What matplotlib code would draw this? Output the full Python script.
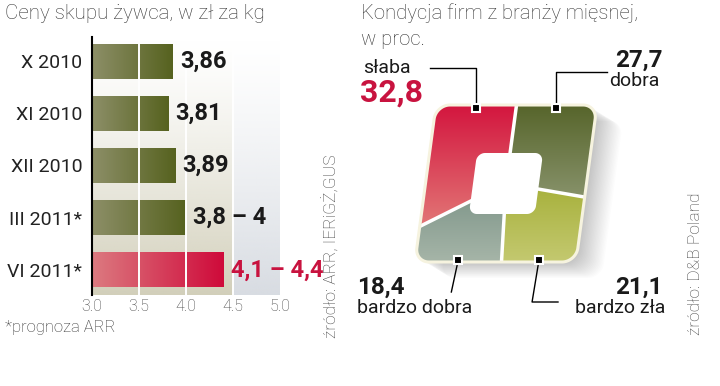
import numpy as np
import matplotlib
matplotlib.use('Agg')
import matplotlib.pyplot as plt
from matplotlib.patches import Polygon
from matplotlib.colors import to_rgb

# left chart: live pig purchase prices, zl/kg
periods = ['X 2010', 'XI 2010', 'XII 2010', 'III 2011*', 'VI 2011*']
price_low = [3.86, 3.81, 3.89, 3.8, 4.1]
price_high = [3.86, 3.81, 3.89, 4.0, 4.4]
price_ticks = [3.0, 3.5, 4.0, 4.5, 5.0]
highlight = 4

# right chart: condition of meat companies, %, clockwise from top
condition_labels = ['dobra', 'bardzo zła', 'bardzo dobra', 'słaba']
condition_values = [27.7, 21.1, 18.4, 32.8]

plt.rcParams['font.family'] = ['Roboto', 'DejaVu Sans']

OLIVE = ('#8d8f68', '#56621f')
RED = ('#dc7a80', '#cf0a3a')
RED_TXT = '#c8133f'
INK = '#1a1a1a'
piece_colors = [('#56642a', '#87926a'), ('#a6b03a', '#c4c970'),
                ('#7a9286', '#a6b5a8'), ('#d3153e', '#e27676')]


def fmt(v):
    s = f'{v:.2f}'.rstrip('0').rstrip('.')
    return s.replace('.', ',')


fig = plt.figure(figsize=(7.2, 3.86), dpi=100)
canvas = fig.add_axes([0, 0, 1, 1])
canvas.set_xlim(0, 720)
canvas.set_ylim(386, 0)
canvas.axis('off')

# ---------------- left: bar chart ----------------
ax = fig.add_axes([92 / 720, 1 - 295 / 386, 188 / 720, 258 / 386])
y = np.arange(len(periods))
ylo, yhi = len(periods) - 1 + 0.48, -0.46


def vgrad(color, n=256, gamma=1.3):
    arr = np.zeros((n, 1, 4))
    arr[..., :3] = to_rgb(color)
    arr[:, 0, 3] = np.linspace(0, 1, n) ** gamma
    return arr


ax.imshow(vgrad('#d2cfba'), extent=(3.0, 4.5, ylo, yhi), origin='upper',
          aspect='auto', zorder=0)
ax.imshow(vgrad('#d8dce2'), extent=(4.5, 5.0, ylo, yhi), origin='upper',
          aspect='auto', zorder=0)

bars = ax.barh(y, price_high, height=0.67, color='none', zorder=2)
for i, b in enumerate(bars):
    c0, c1 = RED if i == highlight else OLIVE
    t = np.linspace(0, 1, 256)[:, None]
    arr = (1 - t) * np.array(to_rgb(c0)) + t * np.array(to_rgb(c1))
    im = ax.imshow(arr[None, :, :], extent=(3.0, price_high[i], y[i] + 0.335, y[i] - 0.335),
                   aspect='auto', zorder=2, interpolation='bilinear')
    im.set_clip_path(b)
    label = fmt(price_low[i]) if price_low[i] == price_high[i] else \
        f'{fmt(price_low[i])} – {fmt(price_high[i])}'
    ax.annotate(label, xy=(price_high[i], y[i]), xytext=(5, 0), textcoords='offset points',
                va='center', ha='left', fontsize=17, fontweight='bold', zorder=6,
                color=RED_TXT if i == highlight else INK, annotation_clip=False)

for v in price_ticks[1:-1]:
    ax.axvline(v, color='white', lw=1.4, zorder=3)

ax.set_xlim(3.0, 5.0)
ax.set_ylim(ylo, yhi)
for s in ['top', 'right', 'bottom']:
    ax.spines[s].set_visible(False)
ax.spines['left'].set_linewidth(1.5)
ax.spines['left'].set_color('black')
ax.spines['left'].set_zorder(4)
ax.set_xticks(price_ticks, labels=[f'{t:.1f}' for t in price_ticks])
ax.set_yticks(y, labels=periods)
ax.tick_params(axis='x', length=0, pad=3, labelsize=11.5, labelcolor='#444')
ax.tick_params(axis='y', length=0, pad=7, labelsize=14, labelcolor='#222')
for lbl in ax.get_xticklabels():
    lbl.set_fontweight('light')

canvas.text(5, 19, 'Ceny skupu żywca, w zł za kg', fontsize=14.8, fontweight='light',
            color='#333', va='baseline')
canvas.text(5, 332, '*prognoza ARR', fontsize=12, fontweight='light', color='#333',
            va='baseline')
canvas.text(331, 338, 'źródło: ARR, IERiGŻ,GUS', rotation=90, ha='center', va='bottom',
            fontsize=12.5, fontweight='light', color='#444')

# ---------------- right: square "pie" ----------------
cx, cy = 506.0, 183.5
half_w, half_h, corner_r, skew = 80.5, 78.5, 14.0, 0.134
hole_w, hole_h, hole_r = 33.0, 30.5, 8.0


def rounded_outline(a, b, r, n=300):
    rad = np.radians
    parts = [np.column_stack([np.linspace(0, a - r, n), np.full(n, b)])]
    t = rad(np.linspace(90, 0, n))
    parts.append(np.column_stack([a - r + r * np.cos(t), b - r + r * np.sin(t)]))
    parts.append(np.column_stack([np.full(n, a), np.linspace(b - r, -b + r, n)]))
    t = rad(np.linspace(0, -90, n))
    parts.append(np.column_stack([a - r + r * np.cos(t), -b + r + r * np.sin(t)]))
    parts.append(np.column_stack([np.linspace(a - r, -a + r, n), np.full(n, -b)]))
    t = rad(np.linspace(-90, -180, n))
    parts.append(np.column_stack([-a + r + r * np.cos(t), -b + r + r * np.sin(t)]))
    parts.append(np.column_stack([np.full(n, -a), np.linspace(-b + r, b - r, n)]))
    t = rad(np.linspace(180, 90, n))
    parts.append(np.column_stack([-a + r + r * np.cos(t), b - r + r * np.sin(t)]))
    parts.append(np.column_stack([np.linspace(-a + r, 0, n), np.full(n, b)]))
    return np.vstack(parts)


def to_canvas(p):
    p = np.atleast_2d(p)
    return np.column_stack([cx + p[:, 0] + skew * p[:, 1], cy - p[:, 1]])


outline = rounded_outline(half_w, half_h, corner_r)
ang = (90 - np.degrees(np.arctan2(outline[:, 1], outline[:, 0]))) % 360
ang[-1] = 360.0
cum = np.concatenate([[0], np.cumsum(condition_values)]) / sum(condition_values) * 360

# soft drop shadow
outline_c = to_canvas(outline)
for k in range(1, 21):
    canvas.add_patch(Polygon(outline_c + [k * 1.3, k * 0.8], closed=True, facecolor='black',
                             edgecolor='none', alpha=0.011, zorder=1))

markers = []
for i in range(len(condition_values)):
    mask = (ang >= cum[i]) & (ang <= cum[i + 1])
    pts = np.vstack([[0, 0], outline[mask]])
    poly_c = to_canvas(pts)
    poly = Polygon(poly_c, closed=True, facecolor='none', edgecolor='none', zorder=2)
    canvas.add_patch(poly)
    c_top, c_bot = piece_colors[i]
    t = np.linspace(0, 1, 256)[:, None]
    arr = (1 - t) * np.array(to_rgb(c_top)) + t * np.array(to_rgb(c_bot))
    x0, x1 = poly_c[:, 0].min(), poly_c[:, 0].max()
    y0, y1 = poly_c[:, 1].min(), poly_c[:, 1].max()
    im = canvas.imshow(arr[:, None, :], extent=(x0, x1, y1, y0), origin='upper',
                       aspect='auto', zorder=2, interpolation='bilinear')
    im.set_clip_path(poly)
    edge = outline[mask]
    top = edge[:, 1].mean() > 0
    near = edge[np.abs(edge[:, 1]) >= half_h - corner_r]
    near = near[near[:, 1] > 0] if top else near[near[:, 1] < 0]
    mx = (near[:, 0].min() + near[:, 0].max()) / 2
    my = (half_h - 2.5) if top else -(half_h - 2.5)
    markers.append(to_canvas([mx, my])[0])

for c in cum[:-1]:
    j = np.argmin(np.abs(ang - c))
    seg = to_canvas(np.array([[0, 0], outline[j]]))
    canvas.plot(seg[:, 0], seg[:, 1], color='white', lw=2.5, zorder=3,
                solid_capstyle='butt')

canvas.add_patch(Polygon(to_canvas(rounded_outline(hole_w, hole_h, hole_r, 60)), closed=True,
                         facecolor='white', edgecolor='none', zorder=4))
canvas.add_patch(Polygon(outline_c, closed=True, facecolor='none', edgecolor='#f6f3df',
                         lw=2.2, zorder=4))

for mx, my in markers:
    canvas.plot([mx], [my], marker='s', ms=6, mfc='black', mec='white', mew=1.5, zorder=6)

val = [f'{v:.1f}'.replace('.', ',') for v in condition_values]

# dobra
mx, my = markers[0]
canvas.plot([mx, mx, 607], [my, 72, 72], color='black', lw=1, zorder=5)
canvas.text(663, 67, val[0], ha='right', va='baseline', fontsize=17.5, fontweight='bold', color=INK)
canvas.text(660, 86, condition_labels[0], ha='right', va='baseline', fontsize=14, color=INK)
# bardzo zła
mx, my = markers[1]
canvas.plot([mx, mx - 7, 558], [my, 302, 302], color='black', lw=1, zorder=5)
canvas.text(663, 294, val[1], ha='right', va='baseline', fontsize=17.5, fontweight='bold', color=INK)
canvas.text(665, 313, condition_labels[1], ha='right', va='baseline', fontsize=14, color=INK)
# bardzo dobra
mx, my = markers[2]
canvas.plot([mx, mx - 7], [my, 292], color='black', lw=1, zorder=5)
canvas.text(357, 294, val[2], ha='left', va='baseline', fontsize=17.5, fontweight='bold', color=INK)
canvas.text(357, 313, condition_labels[2], ha='left', va='baseline', fontsize=14, color=INK)
# słaba
mx, my = markers[3]
canvas.plot([mx, mx, 430], [my, 68, 68], color='black', lw=1, zorder=5)
canvas.text(363, 73, condition_labels[3], ha='left', va='baseline', fontsize=14, color=INK)
canvas.text(360, 102, val[3], ha='left', va='baseline', fontsize=23, fontweight='bold', color=RED_TXT)

canvas.text(361, 19, 'Kondycja firm z branży mięsnej,', fontsize=14.6, fontweight='light',
            color='#333', va='baseline')
canvas.text(361, 45, 'w proc.', fontsize=14.6, fontweight='light', color='#333', va='baseline')
canvas.text(695, 335, 'źródło: D&B Poland', rotation=90, ha='center', va='bottom',
            fontsize=12.5, fontweight='light', color='#444')

fig.savefig('out.png', dpi=100)
plt.close(fig)
